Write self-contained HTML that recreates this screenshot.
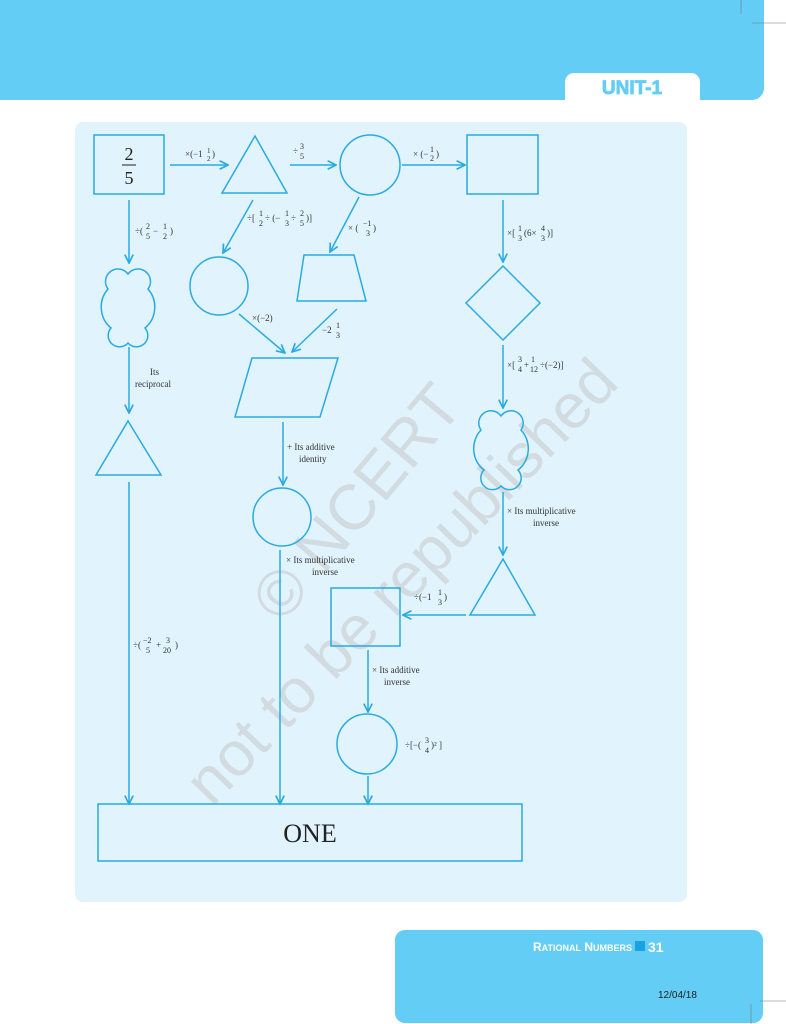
<!DOCTYPE html>
<html><head><meta charset="utf-8"><style>
html,body{margin:0;padding:0;background:#fff;}
body{width:786px;height:1024px;position:relative;overflow:hidden;font-family:"Liberation Serif",serif;}
</style></head><body>
<svg width="786" height="1024" viewBox="0 0 786 1024" xmlns="http://www.w3.org/2000/svg" style="position:absolute;left:0;top:0">
<defs>
<marker id="ar" viewBox="0 0 10 10" refX="9" refY="5" markerWidth="7" markerHeight="7" orient="auto-start-reverse">
<path d="M1,1 L9,5 L1,9" fill="none" stroke="#29abe2" stroke-width="1.6"/>
</marker>
</defs>
<!-- header -->
<path d="M0,0 H764 V88 A12,12 0 0 1 752,100 H0 Z" fill="#63cdf5"/>
<path d="M565,100 V82 A9,9 0 0 1 574,73 H691 A9,9 0 0 1 700,82 V100 Z" fill="#fff"/>
<text x="632" y="94" text-anchor="middle" font-family="Liberation Sans,sans-serif" font-weight="bold" font-size="19" fill="#63cdf5" stroke="#63cdf5" stroke-width="0.8">UNIT-1</text>
<line x1="741" y1="0" x2="741" y2="14" stroke="#777" stroke-width="0.6"/>
<line x1="752" y1="23" x2="786" y2="23" stroke="#777" stroke-width="0.6"/>
<!-- footer -->
<rect x="395" y="930" width="368" height="93" rx="10" fill="#63cdf5"/>
<text x="533" y="951" font-family="Liberation Sans,sans-serif" font-weight="bold" font-size="12" fill="#fff">R<tspan font-size="9">ATIONAL</tspan> N<tspan font-size="9">UMBERS</tspan></text>
<rect x="635" y="941" width="10" height="10" fill="#1aa3e0"/>
<text x="648" y="952" font-family="Liberation Sans,sans-serif" font-weight="bold" font-size="14" fill="#fff">31</text>
<text x="658" y="998" font-family="Liberation Sans,sans-serif" font-size="10" fill="#222">12/04/18</text>
<line x1="751" y1="1004" x2="751" y2="1024" stroke="#777" stroke-width="0.6"/>
<line x1="760" y1="1001" x2="786" y2="1001" stroke="#777" stroke-width="0.6"/>
<!-- panel -->
<rect x="75" y="122" width="612" height="780" rx="8" fill="#e1f3fd"/>
<!-- watermark -->
<g fill="#c9cfd2" font-family="Liberation Sans,sans-serif" opacity="0.65">
<text x="282" y="625" font-size="64" transform="rotate(-50 282 625)">© NCERT</text>
<text x="212" y="808" font-size="63" transform="rotate(-46 212 808)">not to be republished</text>
</g>
<g fill="none" stroke="#29abe2" stroke-width="1.5">
<rect x="94" y="135" width="70" height="59"/>
<path d="M255,136 L287,193 L222,193 Z"/>
<circle cx="370" cy="165" r="30"/>
<rect x="467" y="135" width="71" height="59"/>
<path d="M128,274 A11,11 0 0 0 108,289 A24,26 0 0 0 111,328 A10,10 0 0 0 128,343 A10,10 0 0 0 145,328 A24,26 0 0 0 148,289 A11,11 0 0 0 128,274 Z"/>
<circle cx="219" cy="286" r="29"/>
<path d="M304,255 L354,255 L366,301 L297,301 Z"/>
<path d="M503,266 L540,303 L503,340 L466,303 Z"/>
<path d="M252,358 L338,358 L320,417 L235,417 Z"/>
<path d="M128,421 L161,475 L96,475 Z"/>
<circle cx="282" cy="517" r="29"/>
<path d="M501,416 A11,11 0 0 0 481,430 A24,26 0 0 0 484,470 A10,10 0 0 0 501,486 A10,10 0 0 0 518,470 A24,26 0 0 0 521,430 A11,11 0 0 0 501,416 Z"/>
<path d="M503,559 L535,615 L470,615 Z"/>
<rect x="331" y="588" width="69" height="58"/>
<circle cx="367" cy="744" r="30"/>
<rect x="98" y="804" width="424" height="57"/>
<g marker-end="url(#ar)">
<line x1="170" y1="165" x2="228" y2="165"/>
<line x1="290" y1="165" x2="336" y2="165"/>
<line x1="402" y1="165" x2="465" y2="165"/>
<line x1="129" y1="200" x2="129" y2="263"/>
<line x1="253" y1="200" x2="223" y2="253"/>
<line x1="359" y1="197" x2="330" y2="252"/>
<line x1="239" y1="314" x2="285" y2="353"/>
<line x1="337" y1="309" x2="292" y2="352"/>
<line x1="503" y1="200" x2="503" y2="262"/>
<line x1="503" y1="345" x2="503" y2="408"/>
<line x1="503" y1="492" x2="503" y2="555"/>
<line x1="466" y1="615" x2="403" y2="615"/>
<line x1="368" y1="650" x2="368" y2="712"/>
<line x1="368" y1="776" x2="368" y2="804"/>
<line x1="129" y1="347" x2="129" y2="413"/>
<line x1="129" y1="482" x2="129" y2="804"/>
<line x1="283" y1="422" x2="283" y2="485"/>
<line x1="280" y1="550" x2="280" y2="804"/>
</g>
</g>
<g font-family="Liberation Serif,serif" fill="#333" font-size="9">
<text x="129" y="160" font-size="18" text-anchor="middle" fill="#222">2</text>
<line x1="122" y1="165" x2="136" y2="165" stroke="#222" stroke-width="1"/>
<text x="129" y="184" font-size="18" text-anchor="middle" fill="#222">5</text>
<text x="310" y="842" font-size="26" text-anchor="middle" fill="#222">ONE</text>
<text x="185" y="157">×(−1</text><text x="207" y="153" font-size="7">1</text><text x="207" y="161" font-size="7">2</text><text x="212" y="157">)</text>
<text x="293" y="154">÷</text><text x="300" y="149" font-size="8">3</text><text x="300" y="159" font-size="8">5</text>
<text x="413" y="157">× (−</text><text x="430" y="152" font-size="8">1</text><text x="430" y="161" font-size="8">2</text><text x="436" y="157">)</text>
<text x="135" y="234">÷(</text><text x="146" y="229" font-size="8">2</text><text x="146" y="239" font-size="8">5</text><text x="153" y="234">−</text><text x="163" y="229" font-size="8">1</text><text x="163" y="239" font-size="8">2</text><text x="170" y="234">)</text>
<text x="247" y="221">÷[</text><text x="259" y="216" font-size="8">1</text><text x="259" y="226" font-size="8">2</text><text x="265" y="221">÷ (−</text><text x="285" y="216" font-size="8">1</text><text x="285" y="226" font-size="8">3</text><text x="291" y="221">÷</text><text x="300" y="216" font-size="8">2</text><text x="300" y="226" font-size="8">5</text><text x="306" y="221">)]</text>
<text x="348" y="231">× (</text><text x="363" y="226" font-size="8">−1</text><text x="366" y="236" font-size="8">3</text><text x="373" y="231">)</text>
<text x="252" y="321">×(−2)</text>
<text x="322" y="333">−2</text><text x="336" y="328" font-size="8">1</text><text x="336" y="338" font-size="8">3</text>
<text x="507" y="236">×[</text><text x="518" y="231" font-size="8">1</text><text x="518" y="241" font-size="8">3</text><text x="524" y="236">(6×</text><text x="541" y="231" font-size="8">4</text><text x="541" y="241" font-size="8">3</text><text x="547" y="236">)]</text>
<text x="507" y="368">×[</text><text x="518" y="362" font-size="8">3</text><text x="518" y="372" font-size="8">4</text><text x="524" y="368">+</text><text x="531" y="362" font-size="8">1</text><text x="530" y="372" font-size="8">12</text><text x="540" y="368">÷(−2)]</text>
<text x="150" y="375">Its</text><text x="135" y="387">reciprocal</text>
<text x="287" y="450">+ Its additive</text><text x="299" y="462">identity</text>
<text x="286" y="563">× Its multiplicative</text><text x="312" y="575">inverse</text>
<text x="507" y="514">× Its multiplicative</text><text x="533" y="526">inverse</text>
<text x="372" y="673">× Its additive</text><text x="384" y="685">inverse</text>
<text x="414" y="600">÷(−1</text><text x="438" y="595" font-size="8">1</text><text x="438" y="605" font-size="8">3</text><text x="444" y="600">)</text>
<text x="405" y="748">÷[−(</text><text x="425" y="743" font-size="8">3</text><text x="425" y="753" font-size="8">4</text><text x="431" y="748">)² ]</text>
<text x="133" y="648">÷(</text><text x="143" y="643" font-size="8">−2</text><text x="146" y="653" font-size="8">5</text><text x="156" y="648">+</text><text x="166" y="643" font-size="8">3</text><text x="163" y="653" font-size="8">20</text><text x="175" y="648">)</text>
</g>
</svg>
</body></html>
